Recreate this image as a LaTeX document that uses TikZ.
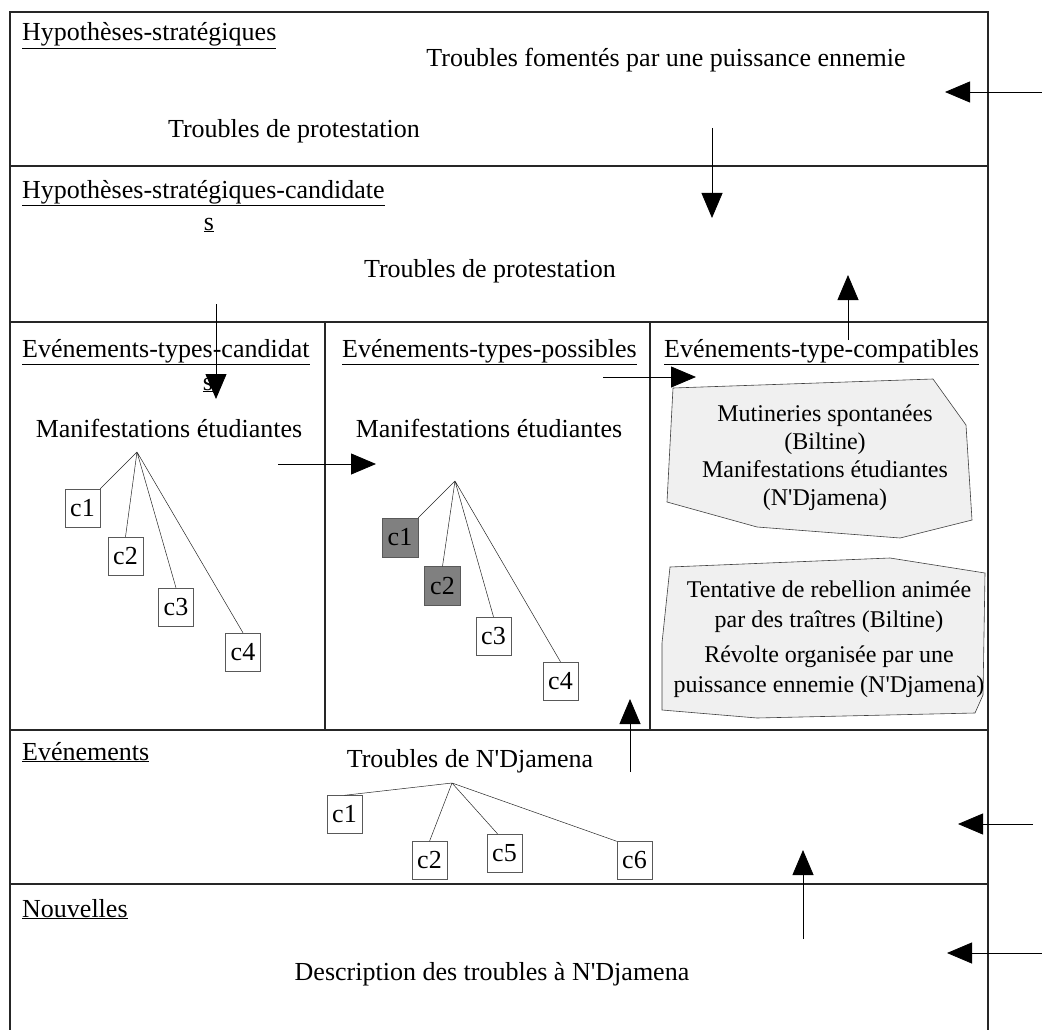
\documentclass[tikz,border=0pt]{standalone}
\usepackage{fontspec}
\setmainfont{Liberation Serif}
\usetikzlibrary{arrows.meta}
\newcommand{\apos}{\textquotesingle{}}
\tikzset{every node/.style={font=\fontsize{26}{28}\selectfont, inner sep=0pt}, % Text size for every label
titre/.style={anchor=base west}, % Underlined heading of a layer
texte/.style={anchor=base},
cadre/.style={draw=black!85, line width=1.1pt},
cas/.style={ % Small boxes c1, c2, ...
draw=black!65,
fill=white,
minimum width=35pt,
minimum height=38pt},
casgris/.style={cas, fill=gray, minimum width=36pt, minimum height=39pt},
branche/.style={draw=black!85, line width=0.5pt},
zone/.style={draw=black!75, line width=0.6pt, fill=gray!12},
fleche/.style={ % Arrows between layers
draw=black,
line width=0.8pt,
-{Triangle[length=25pt,width=21pt]}}}

\begin{document}
\begin{tikzpicture}[x=1pt,y=-1pt]
\useasboundingbox (0,0) rectangle (1042,1030);
% layers
\draw[cadre] (10,1032) -- (10,12) -- (988,12) -- (988,1032);
\foreach \y in {166,322,730,884}
  \draw[cadre] (10,\y) -- (988,\y);
\draw[cadre] (325,322) -- (325,730) (650,322) -- (650,730);

% headings
\node[titre] (t1) at (22,41) {\underline{Hypothèses-stratégiques}};
\node[titre] (t2) at (22,198) {\underline{Hypothèses-stratégiques-candidate}};
\node[texte] (t2s) at (209,230) {\underline{s}};
\node[titre] (t3) at (22,357) {\underline{Evénements-types-candidat}};
\node[texte] (t3s) at (208,390) {\underline{s}};
\node[titre] (t4) at (342,357) {\underline{Evénements-types-possibles}};
\node[titre] (t5) at (664,357) {\underline{Evénements-type-compatibles}};
\node[titre] (t6) at (22,760) {\underline{Evénements}};
\node[titre] (t7) at (22,917) {\underline{Nouvelles}};

% contents
\node[texte] (h1) at (666,67) {Troubles fomentés par une puissance ennemie};
\node[texte] (h2) at (294,138) {Troubles de protestation};
\node[texte] (hc) at (490,277) {Troubles de protestation};
\node[texte] (ec) at (169,437) {Manifestations étudiantes};
\node[texte] (ep) at (489,437) {Manifestations étudiantes};
\node[texte] (ev) at (470,767) {Troubles de N\apos Djamena};
\node[texte] (nv) at (492,980) {Description des troubles à N\apos Djamena};

\draw[zone] (673,388) -- (933,379) -- (966,425) -- (972,520) -- (900,538) -- (757,527) -- (667,502) -- cycle;
\node[align=center, font=\fontsize{24}{28}\selectfont] (z1) at (825,458) {Mutineries spontanées\\(Biltine)\\Manifestations étudiantes\\(N\apos Djamena)};
\draw[zone] (670,567) -- (890,558) -- (985,573) -- (983,695) -- (975,713) -- (757,718) -- (662,710) -- (662,643) -- cycle;
\node[align=center, font=\fontsize{24}{30}\selectfont] (z2) at (829,639) {Tentative de rebellion animée\\par des traîtres (Biltine)\\[5pt]Révolte organisée par une\\puissance ennemie (N\apos Djamena)};

% trees
\coordinate (r1) at (137,452);
\node[cas] (a1) at (82.5,508) {c1};
\node[cas] (a2) at (125.5,556) {c2};
\node[cas] (a3) at (176,607) {c3};
\node[cas] (a4) at (243,652) {c4};
\draw[branche] (r1) -- (a1.north east) (r1) -- (a2.north) (r1) -- (a3.north) (r1) -- (a4.north);

\coordinate (r2) at (455,481);
\node[casgris] (b1) at (400,537.5) {c1};
\node[casgris] (b2) at (442.5,586) {c2};
\node[cas] (b3) at (493.5,636) {c3};
\node[cas] (b4) at (560.5,681) {c4};
\draw[branche] (r2) -- (b1.north east) (r2) -- (b2.north) (r2) -- (b3.north) (r2) -- (b4.north);

\coordinate (r3) at (452,783);
\node[cas] (d1) at (344.5,814.5) {c1};
\node[cas] (d2) at (429.5,860.5) {c2};
\node[cas] (d5) at (504.5,853) {c5};
\node[cas] (d6) at (634.5,860.5) {c6};
\draw[branche] (r3) -- (d1.north) (r3) -- (d2.north) (r3) -- (d5.110) (r3) -- (d6.north west);

% arrows
\coordinate (f1a) at (1042,92);  \coordinate (f1b) at (945,92);
\coordinate (f2a) at (712,128);  \coordinate (f2b) at (712,218);
\coordinate (f3a) at (848,340);  \coordinate (f3b) at (848,275);
\coordinate (f4a) at (216,304);  \coordinate (f4b) at (216,399);
\coordinate (f5a) at (603,377);  \coordinate (f5b) at (696,377);
\coordinate (f6a) at (278,464);  \coordinate (f6b) at (376,464);
\coordinate (f7a) at (630,772);  \coordinate (f7b) at (630,699);
\coordinate (f8a) at (1033,824); \coordinate (f8b) at (958,824);
\coordinate (f9a) at (803,939);  \coordinate (f9b) at (803,850);
\coordinate (f10a) at (1042,953); \coordinate (f10b) at (947,953);
\foreach \i in {1,...,10}
  \draw[fleche] (f\i a) -- (f\i b);
\end{tikzpicture}
\end{document}
